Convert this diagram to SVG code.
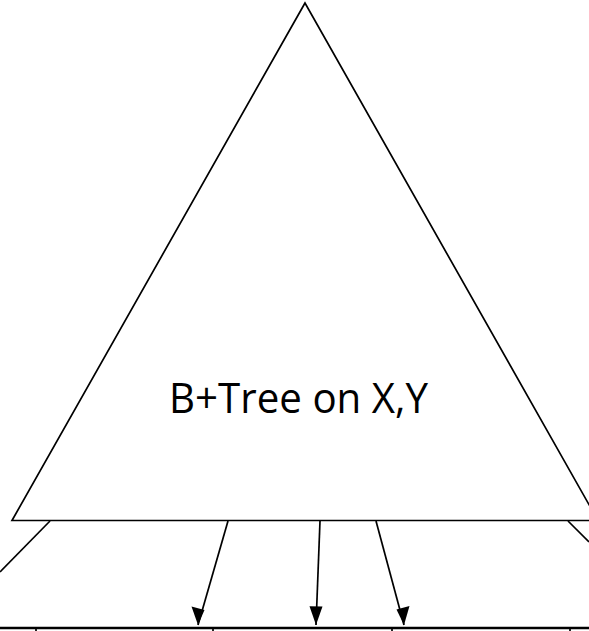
<svg xmlns="http://www.w3.org/2000/svg" width="589" height="631" viewBox="0 0 589 631">
<defs>
<style>
.ln{stroke:#000;stroke-width:1.7;fill:none}
.bt{stroke:#000;stroke-width:2.5;fill:none}
.lbl{font-family:"Open Sans","Liberation Sans",sans-serif;font-size:42.5px;fill:#000}
</style>
</defs>
<rect width="589" height="631" fill="#fff"/>
<g id="tree">
<polygon class="ln" points="305,3 12,520.5 598,520.5"/>
<text class="lbl" x="298.5" y="413" text-anchor="middle" textLength="259" lengthAdjust="spacingAndGlyphs">B+Tree on X,Y</text>
</g>
<g id="leaves">
<line class="bt" x1="0" y1="628" x2="589" y2="628"/>
<line class="ln" x1="36" y1="628" x2="36" y2="631"/>
<line class="ln" x1="213" y1="628" x2="213" y2="631"/>
<line class="ln" x1="392" y1="628" x2="392" y2="631"/>
<line class="ln" x1="570" y1="628" x2="570" y2="631"/>
</g>
<g id="connectors">
<line class="ln" x1="50" y1="521" x2="0" y2="572"/>
<line class="ln" x1="568" y1="521" x2="589" y2="542"/>
<path d="M228,521 L198,625" class="ln"/>
<path d="M320,521 L316,625" class="ln"/>
<path d="M376,521 L404,625" class="ln"/>
<polygon points="198,625 191.5,606.5 204.5,610" fill="#000"/>
<polygon points="316,625 309.5,606.3 322.5,606.6" fill="#000"/>
<polygon points="404,625 396.5,609.5 409.5,606" fill="#000"/>
</g>
</svg>
